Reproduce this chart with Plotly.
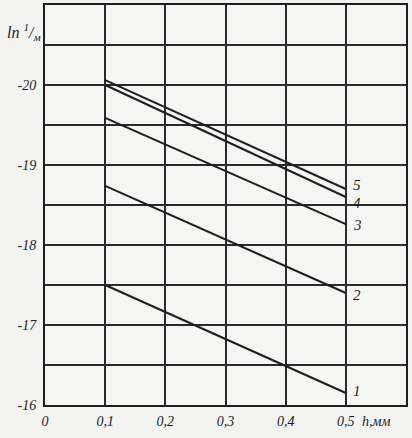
import plotly.graph_objects as go

# thickness h, mm (start and end of each curve)
h_mm = [0.1, 0.5]

# ln(1/m) for curves 1..5
curve_1 = [-17.50, -16.15]
curve_2 = [-18.74, -17.40]
curve_3 = [-19.59, -18.26]
curve_4 = [-20.00, -18.60]
curve_5 = [-20.06, -18.70]

curves = {"1": curve_1, "2": curve_2, "3": curve_3, "4": curve_4, "5": curve_5}
label_shift = {"1": 2, "2": -2, "3": -1, "4": -6, "5": 4}

x_ticks = [0, 0.1, 0.2, 0.3, 0.4, 0.5, 0.6]
x_labels = ["0", "0,1", "0,2", "0,3", "0,4", "0,5", ""]
y_ticks = [-16, -16.5, -17, -17.5, -18, -18.5, -19, -19.5, -20, -20.5, -21]
y_labels = ["-16", "", "-17", "", "-18", "", "-19", "", "-20", "", ""]

ink = "#1e1e1e"
hand = "Liberation Serif"


def italic(labels):
    return [f"<i>{t}</i>" if t else " " for t in labels]


fig = go.Figure()
for name, vals in curves.items():
    fig.add_trace(go.Scatter(x=h_mm, y=vals, mode="lines", name=name,
                             line=dict(color=ink, width=2), showlegend=False))
    fig.add_annotation(x=h_mm[-1], y=vals[-1], text=f"<i>{name}</i>", showarrow=False,
                       xanchor="left", yanchor="middle", xshift=5, yshift=label_shift[name],
                       font=dict(family=hand, size=15, color=ink))

fig.add_annotation(xref="paper", yref="paper", x=-0.005, y=0.965, xanchor="right",
                   text="<i>ln <sup>1</sup>/<sub>м</sub></i>", showarrow=False,
                   font=dict(family=hand, size=16, color=ink))
fig.add_annotation(xref="paper", yref="paper", x=0.96, y=-0.04,
                   text="<i>h,мм</i>", showarrow=False, yanchor="middle",
                   font=dict(family=hand, size=14, color=ink))

axis_common = dict(showline=True, linecolor=ink, linewidth=2, mirror=True,
                   showgrid=True, gridcolor="#2a2a2a", gridwidth=1.6, automargin=False,
                   zeroline=False, ticks="", tickfont=dict(family=hand, size=14, color=ink))

fig.update_xaxes(range=[0, 0.6], tickmode="array", tickvals=x_ticks,
                 ticktext=italic(x_labels), ticklabelstandoff=2, **axis_common)
fig.update_yaxes(range=[-16, -21], tickmode="array", tickvals=y_ticks,
                 ticktext=italic(y_labels), ticklabelstandoff=4, **axis_common)

fig.update_layout(width=412, height=438, margin=dict(l=45, r=6, t=5, b=33),
                  paper_bgcolor="#f3f3f1", plot_bgcolor="#f5f5f3",
                  font=dict(family=hand, color=ink))

fig.write_html("out.html")
